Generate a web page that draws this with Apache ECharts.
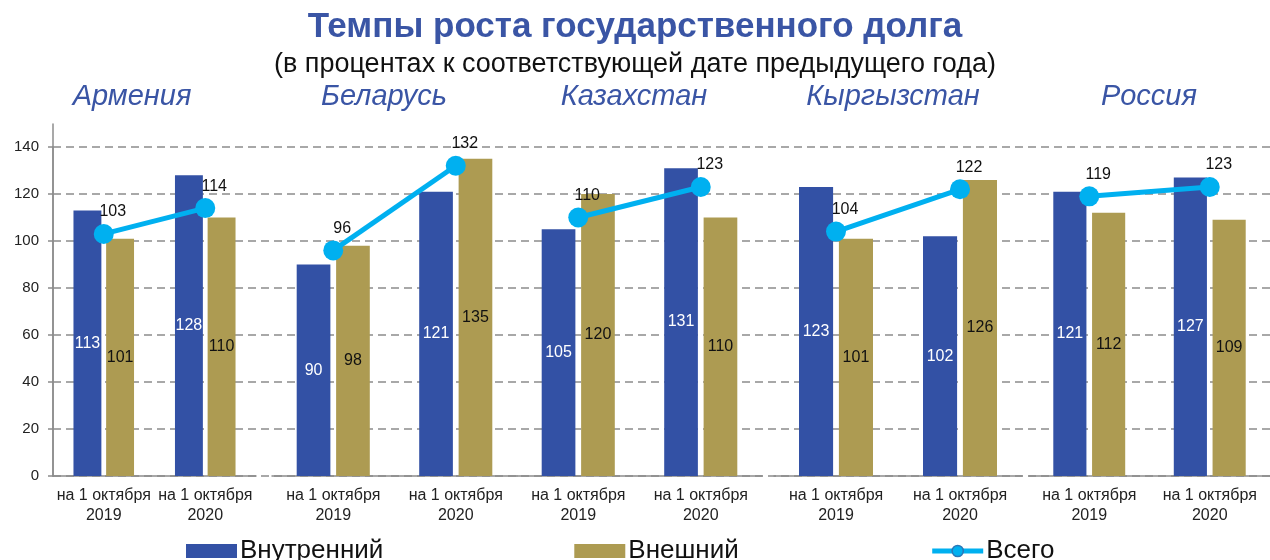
<!DOCTYPE html>
<html>
<head>
<meta charset="utf-8">
<script src="https://cdn.jsdelivr.net/npm/echarts@6/dist/echarts.min.js"></script>
<style>
  html, body { margin: 0; padding: 0; background: #fff; }
  #chart { width: 1270px; height: 560px; }
</style>
</head>
<body>
<div id="chart"></div>
<script>
// data
const countries = ['Армения', 'Беларусь', 'Казахстан', 'Кыргызстан', 'Россия'];
const dates = ['на 1 октября\n2019', 'на 1 октября\n2020'];
const domestic = [[113, 128], [90, 121], [105, 131], [123, 102], [121, 127]];
const external = [[101, 110], [98, 135], [120, 110], [101, 126], [112, 109]];
const total = [[103, 114], [96, 132], [110, 123], [104, 122], [119, 123]];
const yMin = 0, yMax = 140, yStep = 20;

// layout of the panels (left, width) and where the country names sit
const panels = [[53, 203], [272, 245], [517, 245], [774, 248], [1029, 244]];
const nameX = [127, 379, 629, 888, 1144];

const BLUE = '#3351a5';
const OLIVE = '#ad9b52';
const CYAN = '#00b0f0';
const GRID_TOP = 147, GRID_H = 329;
const FONT = 'Liberation Sans, Arial, sans-serif';

const chart = echarts.init(document.getElementById('chart'));

const grids = [], xAxes = [], yAxes = [], series = [];

// background grid: y axis labels + dashed gridlines across the whole width
grids.push({ left: 53, right: 0, top: GRID_TOP, height: GRID_H });
xAxes.push({ gridIndex: 0, type: 'category', show: false, data: ['x'] });
yAxes.push({
  gridIndex: 0, type: 'value', min: yMin, max: yMax, interval: yStep,
  axisLine: { show: true, lineStyle: { color: '#8c8c8c', width: 1.5 } },
  axisTick: { show: true, length: 5, lineStyle: { color: '#8c8c8c', width: 1.5 } },
  axisLabel: { color: '#222', fontSize: 15, margin: 14, fontFamily: FONT },
  splitLine: { show: true, lineStyle: { color: '#8c8c8c', width: 1.5, type: [8, 5] } }
});

// thin grid just to run the y axis line a bit above 140
grids.push({ left: 53, width: 1, top: 124, height: GRID_H + 23 });
xAxes.push({ gridIndex: 1, type: 'category', show: false, data: ['x'] });
yAxes.push({
  gridIndex: 1, type: 'value', min: 0, max: 1,
  axisLine: { show: true, lineStyle: { color: '#8c8c8c', width: 1.5 } },
  axisTick: { show: false }, axisLabel: { show: false }, splitLine: { show: false }
});

countries.forEach((c, i) => {
  const g = i + 2;
  grids.push({ left: panels[i][0], width: panels[i][1], top: GRID_TOP, height: GRID_H });
  xAxes.push({
    gridIndex: g, type: 'category', data: dates,
    axisLine: { lineStyle: { color: '#8c8c8c', width: 1.5 } },
    axisTick: { inside: true, length: 5, lineStyle: { color: '#8c8c8c', width: 1.5 } },
    axisLabel: { interval: 0, hideOverlap: false, color: '#222', fontSize: 16, lineHeight: 20, margin: 10, fontFamily: FONT }
  });
  yAxes.push({ gridIndex: g, type: 'value', min: yMin, max: yMax, show: false, splitLine: { show: false } });

  series.push({
    name: 'Внутренний', type: 'bar', xAxisIndex: g, yAxisIndex: g,
    data: domestic[i], barWidth: '27.5%', barGap: '17%',
    itemStyle: { color: BLUE },
    label: { show: true, position: 'inside', color: '#fff', fontSize: 16, fontFamily: FONT }
  });
  series.push({
    name: 'Внешний', type: 'bar', xAxisIndex: g, yAxisIndex: g,
    data: external[i], barWidth: '27.5%', barGap: '17%',
    itemStyle: { color: OLIVE },
    label: { show: true, position: 'inside', color: '#111', fontSize: 16, fontFamily: FONT }
  });
  series.push({
    name: 'Всего', type: 'line', xAxisIndex: g, yAxisIndex: g, z: 5,
    data: total[i], symbol: 'circle', symbolSize: 20,
    lineStyle: { color: CYAN, width: 5 },
    itemStyle: { color: CYAN },
    label: { show: true, position: 'top', distance: 4, offset: [9, 0], color: '#111', fontSize: 16, fontFamily: FONT }
  });
});

const titles = [
  { text: 'Темпы роста государственного долга', left: 'center', top: 5,
    textStyle: { color: '#3a55a5', fontSize: 35, fontWeight: 'bold', fontFamily: FONT } },
  { text: '(в процентах к соответствующей дате предыдущего года)', left: 'center', top: 46,
    textStyle: { color: '#111', fontSize: 27, fontWeight: 'normal', fontFamily: FONT } }
];
countries.forEach((c, i) => {
  titles.push({
    text: c, left: nameX[i], top: 77, textAlign: 'center',
    textStyle: { color: '#3a55a5', fontSize: 29, fontStyle: 'italic', fontWeight: 'normal', fontFamily: FONT }
  });
});

chart.setOption({
  animation: false,
  title: titles,
  legend: {
    left: 181, top: 533, itemGap: 191, itemWidth: 51, itemHeight: 14,
    textStyle: { color: '#111', fontSize: 26, fontFamily: FONT, padding: [0, 0, 0, -2] },
    lineStyle: { width: 5 },
    data: [
      { name: 'Внутренний', icon: 'rect' },
      { name: 'Внешний', icon: 'rect' },
      { name: 'Всего', itemStyle: { borderColor: '#2a78b8', borderWidth: 1.5 } }
    ]
  },
  grid: grids,
  xAxis: xAxes,
  yAxis: yAxes,
  series: series
});
</script>
</body>
</html>
